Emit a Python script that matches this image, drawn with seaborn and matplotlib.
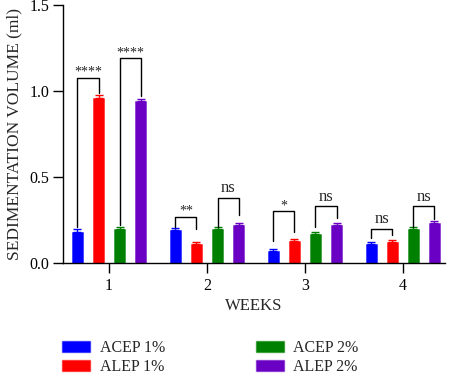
import numpy as np
import pandas as pd
import matplotlib
matplotlib.use("Agg")
import matplotlib.pyplot as plt
import seaborn as sns
from matplotlib.patches import Patch

# ── data ─────────────────────────────────────
weeks = ["1", "2", "3", "4"]
groups = ["ACEP 1%", "ALEP 1%", "ACEP 2%", "ALEP 2%"]
acep_1 = [0.18, 0.19, 0.07, 0.11]
alep_1 = [0.96, 0.11, 0.13, 0.12]
acep_2 = [0.20, 0.20, 0.17, 0.20]
alep_2 = [0.94, 0.22, 0.22, 0.23]
err_acep_1 = [0.015, 0.015, 0.012, 0.015]
err_alep_1 = [0.015, 0.012, 0.012, 0.012]
err_acep_2 = [0.012, 0.012, 0.012, 0.012]
err_alep_2 = [0.012, 0.012, 0.012, 0.015]
colors = ["#0000FF", "#FF0000", "#008000", "#6A00C4"]

# significance brackets: (week index, left group, right group, label, top, left leg, right leg)
brackets = [
    (0, 0, 1, "****", 1.075, 0.21, 0.99),
    (0, 2, 3, "****", 1.19, 0.22, 0.97),
    (1, 0, 1, "**", 0.27, 0.21, 0.20),
    (1, 2, 3, "ns", 0.38, 0.21, 0.28),
    (2, 0, 1, "*", 0.30, 0.13, 0.18),
    (2, 2, 3, "ns", 0.33, 0.21, 0.26),
    (3, 0, 1, "ns", 0.20, 0.145, 0.165),
    (3, 2, 3, "ns", 0.33, 0.21, 0.255),
]

values = [acep_1, alep_1, acep_2, alep_2]
errors = [err_acep_1, err_alep_1, err_acep_2, err_alep_2]
df = pd.DataFrame({
    "week": np.tile(weeks, len(groups)),
    "group": np.repeat(groups, len(weeks)),
    "volume": np.concatenate(values),
})

# ── plot ─────────────────────────────────────
sns.set_theme(style="ticks")
plt.rcParams["font.family"] = ["Liberation Serif", "DejaVu Serif"]

fig = plt.figure(figsize=(4.51, 3.76), dpi=100)
ax = fig.add_axes([63 / 451, 1 - 263 / 376, 382 / 451, 258 / 376])

sns.barplot(data=df, x="week", y="volume", hue="group", hue_order=groups,
            palette=colors, saturation=1, width=0.86, gap=0.46, errorbar=None,
            linewidth=0.6, ax=ax, legend=False)

for bar, c in zip(ax.patches, np.repeat(colors, len(weeks))):
    bar.set_edgecolor(matplotlib.colors.to_rgba(c, 0.5))

for cont, vals, errs, c in zip(ax.containers, values, errors, colors):
    xs = [b.get_x() + b.get_width() / 2 for b in cont]
    ax.errorbar(xs, vals, yerr=[np.zeros(len(errs)), errs], fmt="none",
                ecolor=c, elinewidth=1.0, capsize=3, capthick=1.0)

for wk, g1, g2, label, top, y1, y2 in brackets:
    b1 = ax.containers[g1][wk]
    b2 = ax.containers[g2][wk]
    x1 = b1.get_x() + b1.get_width() / 2
    x2 = b2.get_x() + b2.get_width() / 2
    ax.plot([x1, x1, x2, x2], [y1, top, top, y2], color="black", lw=1.0)
    if label == "ns":
        ax.text((x1 + x2) / 2, top + 0.008, label, ha="center", va="bottom", fontsize=12)
    else:
        ax.text((x1 + x2) / 2, top - 0.005, label, ha="center", va="bottom", fontsize=10)

ax.set_xlim(-0.47, 3.43)
ax.set_ylim(0, 1.5)
ax.set_yticks([0, 0.5, 1.0, 1.5])
ax.set_yticklabels(["0.0", "0.5", "1.0", "1.5"])
ax.set_xlabel("WEEKS", fontsize=12, labelpad=3)
ax.set_ylabel("SEDIMENTATION VOLUME (ml)", fontsize=12.5, labelpad=5)
ax.tick_params(axis="both", labelsize=11.5, width=1.0, colors="black")
ax.tick_params(axis="x", length=7, pad=4)
ax.tick_params(axis="y", length=7, pad=3)
sns.despine(ax=ax)
for s in ["left", "bottom"]:
    ax.spines[s].set_linewidth(1.0)
    ax.spines[s].set_color("black")

handles = [Patch(facecolor=c, edgecolor=matplotlib.colors.to_rgba(c, 0.5)) for c in colors]
fig.legend(handles, groups,
           loc="upper left", bbox_to_anchor=(62 / 451, 1 - 340 / 376), ncol=2,
           frameon=False, fontsize=11.5, handlelength=1.75, handleheight=0.75,
           columnspacing=5.7, labelspacing=0.2, handletextpad=0.6,
           borderpad=0, borderaxespad=0)

plt.savefig("out.png", dpi=100)
